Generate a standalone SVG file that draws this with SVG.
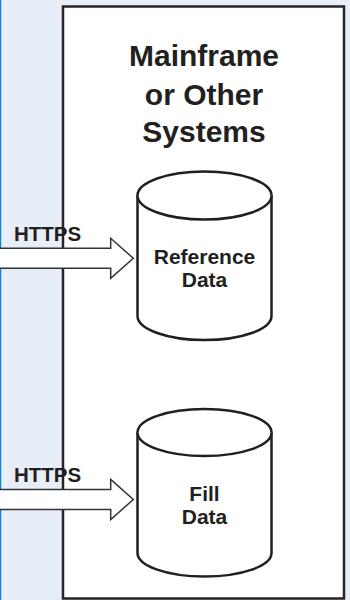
<svg xmlns="http://www.w3.org/2000/svg" width="350" height="600" viewBox="0 0 350 600">
<style>
.bg{fill:#e8eef8}
.box{fill:#ffffff;stroke:#262425;stroke-width:2.5}
.cyl{fill:#ffffff;stroke:#231f20;stroke-width:2.5}
.title{font-family:"Liberation Sans",Arial,sans-serif;font-weight:bold;font-size:30px;fill:#231f20;text-anchor:middle}
.lbl{font-family:"Liberation Sans",Arial,sans-serif;font-weight:bold;font-size:21px;fill:#231f20;text-anchor:middle}
.arr{fill:#ffffff;stroke:#333333;stroke-width:1.5;stroke-linejoin:miter}
.proto{font-family:"Liberation Sans",Arial,sans-serif;font-weight:bold;font-size:20.5px;fill:#231f20}
</style>
<rect class="bg" x="0" y="0" width="350" height="600"/>
<line x1="0.5" y1="0" x2="0.5" y2="600" stroke="#0a86d2" stroke-width="1.5"/>
<g id="mainframe">
<rect class="box" x="63" y="6.5" width="281" height="592"/>
<text class="title" x="204" y="66">Mainframe</text>
<text class="title" x="204" y="104.5">or Other</text>
<text class="title" x="204" y="141.5">Systems</text>
</g>
<g id="reference-data">
<path class="cyl" d="M137.5,195.5 V316 A67,24 0 0 0 271.5,316 V195.5 A67,24 0 0 0 137.5,195.5 Z"/>
<path class="cyl" fill="none" d="M137.5,195.5 A67,24 0 0 0 271.5,195.5"/>
<text class="lbl" x="204.5" y="264">Reference</text>
<text class="lbl" x="204.5" y="287">Data</text>
</g>
<g id="fill-data">
<path class="cyl" d="M137.5,432.5 V553 A67,23.5 0 0 0 271.5,553 V432.5 A67,23.5 0 0 0 137.5,432.5 Z"/>
<path class="cyl" fill="none" d="M137.5,432.5 A67,23.5 0 0 0 271.5,432.5"/>
<text class="lbl" x="204.5" y="501">Fill</text>
<text class="lbl" x="204.5" y="524">Data</text>
</g>
<g id="connectors">
<path class="arr" d="M-5,248.3 H110.7 V238.3 L133.3,258.3 L110.7,278.3 V268.3 H-5 Z"/>
<text class="proto" x="14" y="240.7">HTTPS</text>
<path class="arr" d="M-5,489.5 H110.7 V479.5 L133.3,499.5 L110.7,519.5 V509.5 H-5 Z"/>
<text class="proto" x="14" y="481.7">HTTPS</text>
</g>
</svg>
